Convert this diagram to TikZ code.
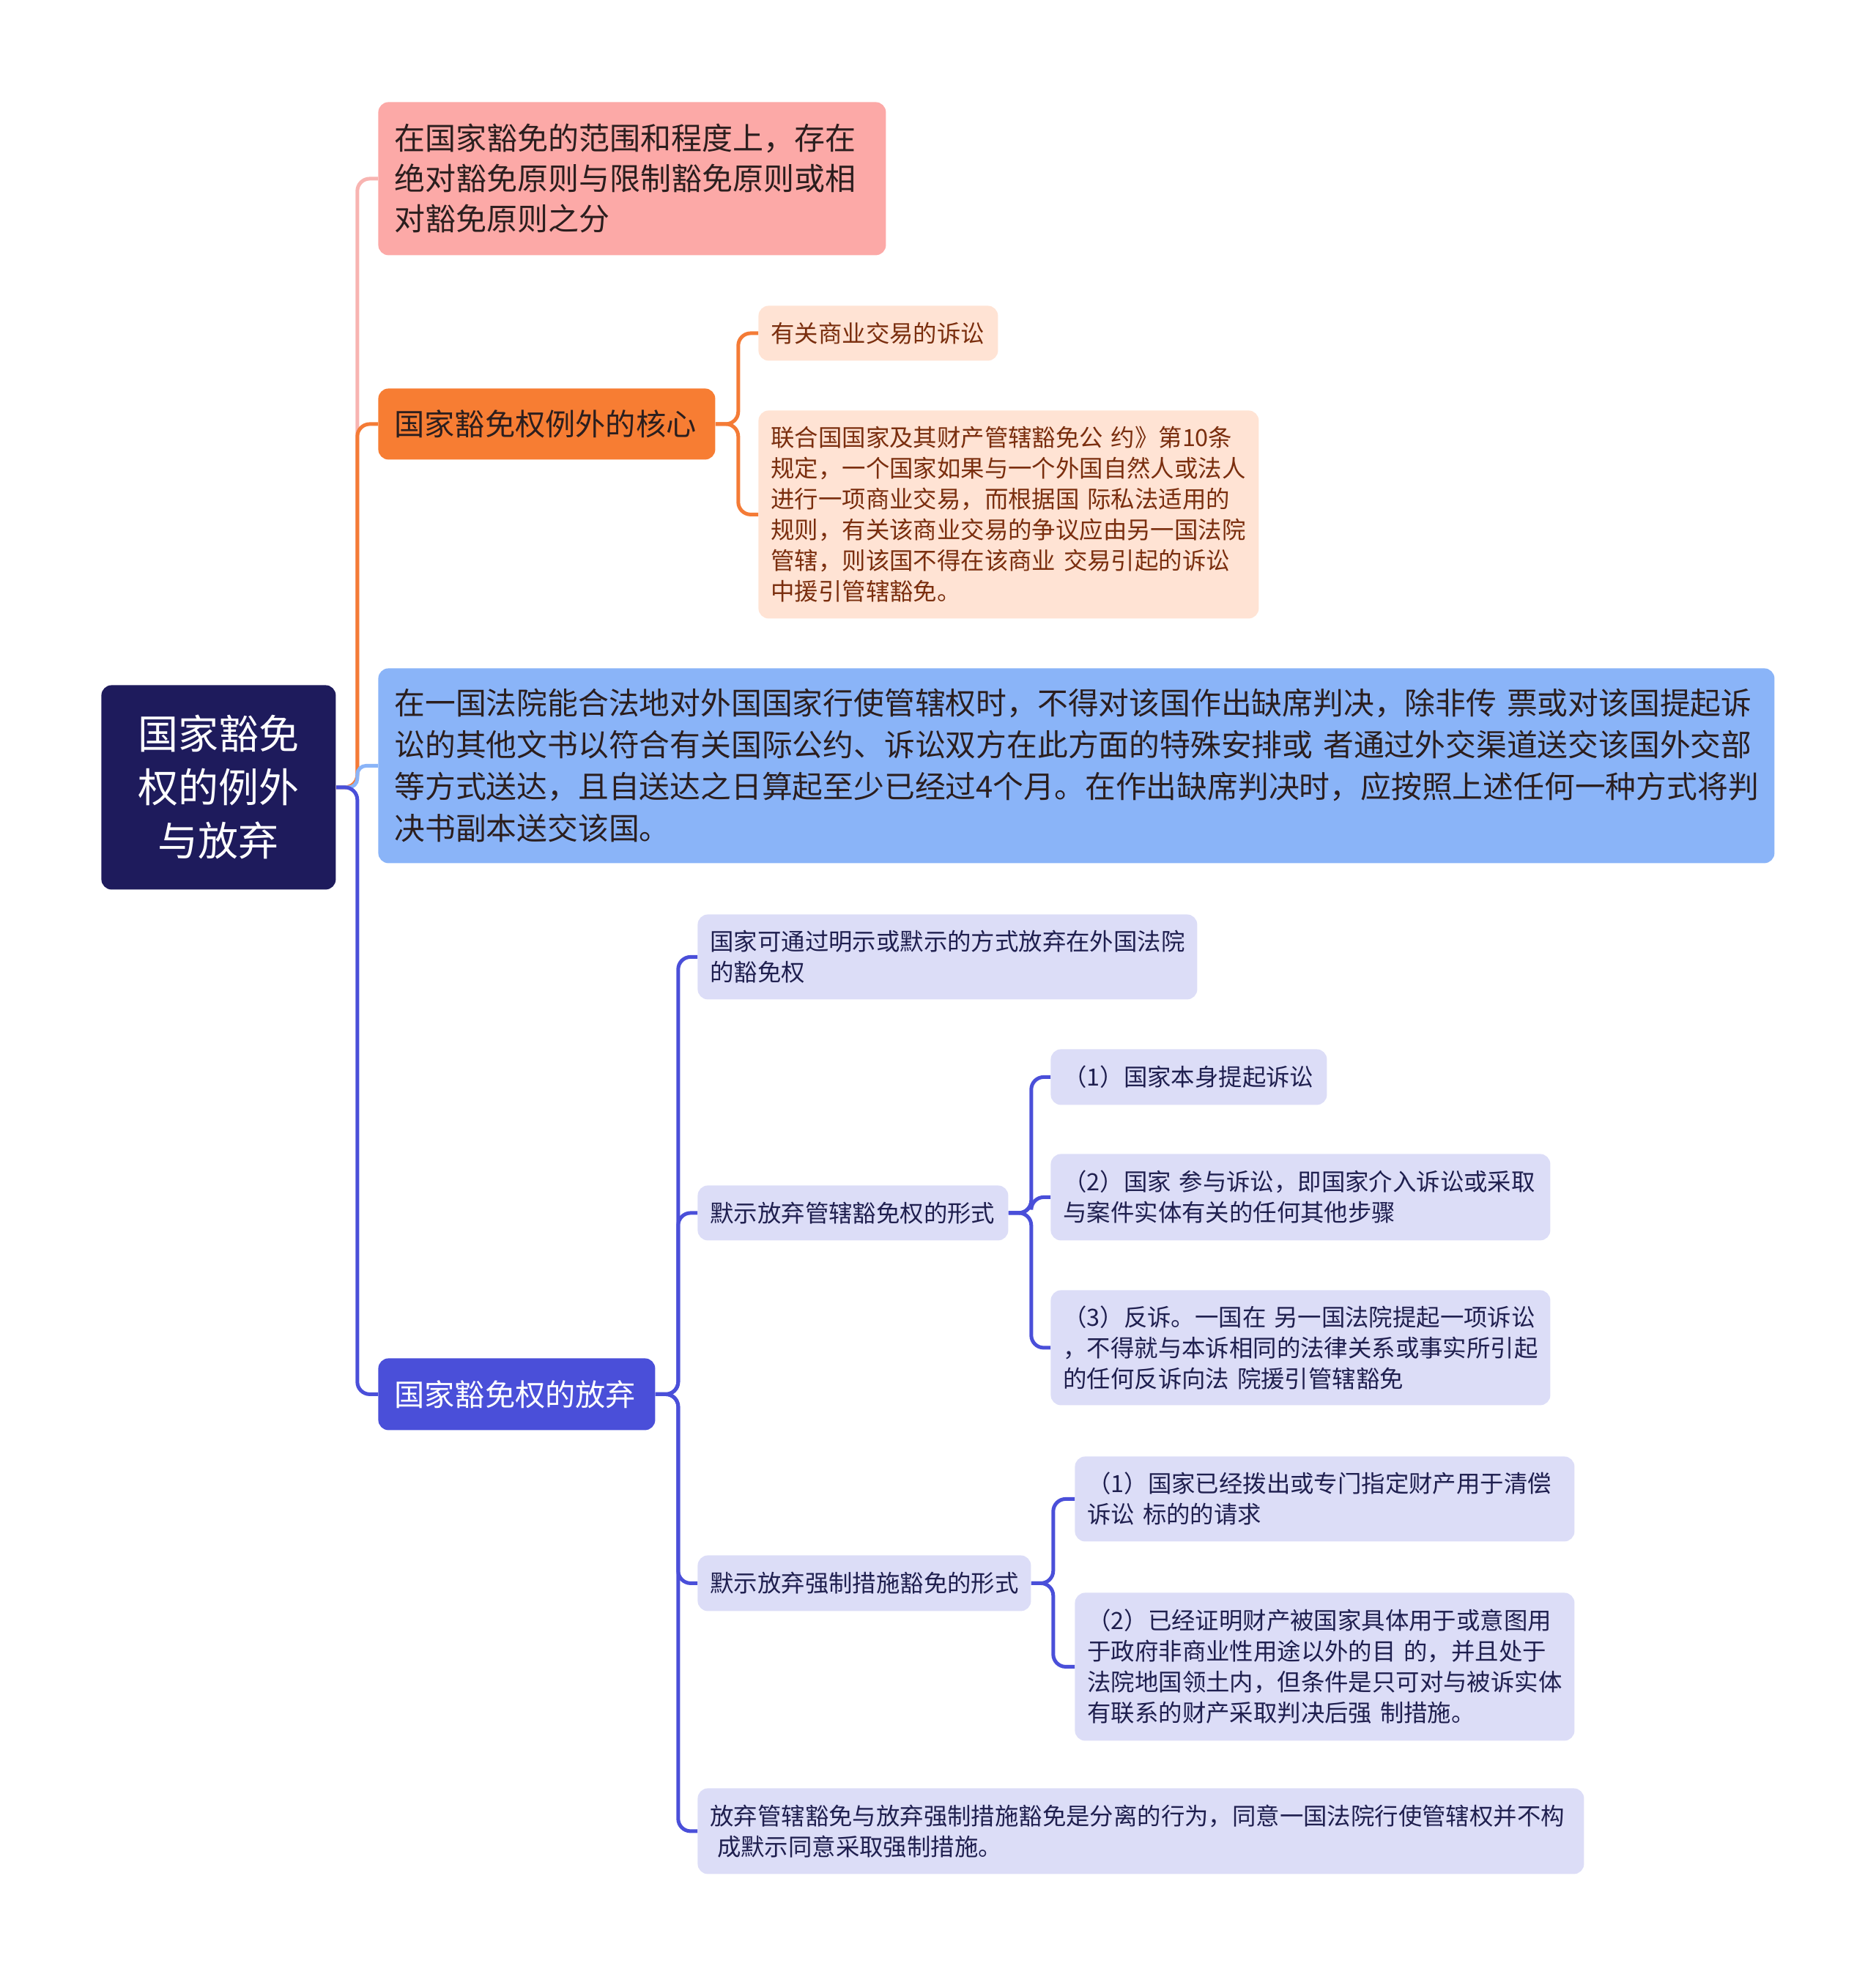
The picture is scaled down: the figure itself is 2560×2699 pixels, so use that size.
\documentclass[tikz,border=0pt]{standalone}
\usepackage{fontspec}
\newfontfamily\cjk{Noto Sans CJK SC}
\definecolor{rootfill}{HTML}{1E1B5C}
\definecolor{pinkfill}{HTML}{FCA9A7}
\definecolor{pinkline}{HTML}{F8B4B1}
\definecolor{orangefill}{HTML}{F77D33}
\definecolor{orangeline}{HTML}{F47B36}
\definecolor{peachfill}{HTML}{FFE3D4}
\definecolor{peachtext}{HTML}{7A2E0E}
\definecolor{bluefill}{HTML}{8AB4F8}
\definecolor{indigofill}{HTML}{4A4FD9}
\definecolor{lavfill}{HTML}{DCDDF7}
\definecolor{lavtext}{HTML}{1F1F4F}
\definecolor{darktext}{HTML}{2B1E1E}
\begin{document}
\begin{tikzpicture}[x=0.5pt,y=-0.5pt,
  box/.style={anchor=north west, rounded corners=7pt, inner ysep=0pt, align=left},
  big/.style={font=\cjk\fontsize{21pt}{27.5pt}\selectfont, inner xsep=11pt},
  small/.style={font=\cjk\fontsize{16.2pt}{21pt}\selectfont, inner xsep=8.5pt},
  conn/.style={line width=2.5pt, rounded corners=8.5pt}]
\useasboundingbox (0,0) rectangle (2560,2699);

% root
\node[box, align=center, fill=rootfill, text=white, inner xsep=0pt,
  font=\cjk\fontsize{27.5pt}{36.5pt}\selectfont,
  text width=160pt, minimum height=139.5pt] (root) at (138,935)
  {国家豁免\\权的例外\\与放弃};

% level 1
\node[box, big, fill=pinkfill, text=darktext, text width=324.5pt, minimum height=104.5pt] (A) at (516,139)
  {在国家豁免的范围和程度上，存在\\绝对豁免原则与限制豁免原则或相\\对豁免原则之分};
\node[box, big, fill=orangefill, text=darktext, text width=208pt, minimum height=48.5pt,
  font=\cjk\fontsize{20.6pt}{27pt}\selectfont] (B) at (516,530)
  {国家豁免权例外的核心};
\node[box, big, fill=bluefill, text=darktext, text width=931pt, minimum height=133pt,
  font=\cjk\fontsize{20.9pt}{28.5pt}\selectfont] (C) at (516,912)
  {在一国法院能合法地对外国国家行使管辖权时，不得对该国作出缺席判决，除非传~票或对该国提起诉\\讼的其他文书以符合有关国际公约、诉讼双方在此方面的特殊安排或~者通过外交渠道送交该国外交部\\等方式送达，且自送达之日算起至少已经过4个月。在作出缺席判决时，应按照上述任何一种方式将判\\决书副本送交该国。};
\node[box, big, fill=indigofill, text=white, text width=167pt, minimum height=49pt,
  font=\cjk\fontsize{20.6pt}{27pt}\selectfont] (D) at (516,1854)
  {国家豁免权的放弃};

% B children
\node[box, small, fill=peachfill, text=peachtext, text width=146.5pt, minimum height=37.5pt] (B1) at (1035,417)
  {有关商业交易的诉讼};
\node[box, small, fill=peachfill, text=peachtext, text width=324.5pt, minimum height=142pt] (B2) at (1035,560)
  {联合国国家及其财产管辖豁免公~约》第10条\\规定，一个国家如果与一个外国自然人或法人\\进行一项商业交易，而根据国~际私法适用的\\规则，有关该商业交易的争议应由另一国法院\\管辖，则该国不得在该商业~交易引起的诉讼\\中援引管辖豁免。};

% D children
\node[box, small, fill=lavfill, text=lavtext, text width=324pt, minimum height=58pt] (D1) at (952,1248)
  {国家可通过明示或默示的方式放弃在外国法院\\的豁免权};
\node[box, small, fill=lavfill, text=lavtext, text width=195pt, minimum height=37.5pt] (D2) at (952,1618)
  {默示放弃管辖豁免权的形式};
\node[box, small, fill=lavfill, text=lavtext, minimum height=38pt, text width=210.5pt] (D3) at (952,2123)
  {默示放弃强制措施豁免的形式};
\node[box, small, fill=lavfill, text=lavtext, text width=588pt, minimum height=58.5pt] (D4) at (952,2441)
  {放弃管辖豁免与放弃强制措施豁免是分离的行为，同意一国法院行使管辖权并不构\\\hspace{0.3em}成默示同意采取强制措施。};

% D2 children
\node[box, small, fill=lavfill, text=lavtext, text width=171.5pt, minimum height=38pt] (D2a) at (1434,1432)
  {（1）国家本身提起诉讼};
\node[box, small, fill=lavfill, text=lavtext, text width=324pt, minimum height=59pt] (D2b) at (1434,1575)
  {（2）国家~参与诉讼，即国家介入诉讼或采取\\与案件实体有关的任何其他步骤};
\node[box, small, fill=lavfill, text=lavtext, text width=324pt, minimum height=78.5pt] (D2c) at (1434,1761)
  {（3）反诉。一国在~另一国法院提起一项诉讼\\，不得就与本诉相同的法律关系或事实所引起\\的任何反诉向法~院援引管辖豁免};

% D3 children
\node[box, small, fill=lavfill, text=lavtext, text width=324pt, minimum height=58pt] (D3a) at (1467,1988)
  {（1）国家已经拨出或专门指定财产用于清偿\\诉讼~标的的请求};
\node[box, small, fill=lavfill, text=lavtext, text width=324pt, minimum height=101pt] (D3b) at (1467,2174)
  {（2）已经证明财产被国家具体用于或意图用\\于政府非商业性用途以外的目~的，并且处于\\法院地国领土内，但条件是只可对与被诉实体\\有联系的财产采取判决后强~制措施。};

% junctions
\coordinate (j0) at ([xshift=14.5pt]root.east);
\coordinate (jB) at ([xshift=15.5pt]B.east);
\coordinate (jD) at ([xshift=15.5pt]D.east);
\coordinate (jD2) at ([xshift=15.5pt]D2.east);
\coordinate (jD3) at ([xshift=15pt]D3.east);

% connectors from root
\draw[conn, pinkline] (root.east) -- (j0) |- (A.west);
\draw[conn, orangeline] (root.east) -- (j0) |- (B.west);
\draw[conn, bluefill, rounded corners=6pt] (root.east) -- (j0) |- (C.west);
\draw[conn, indigofill] (root.east) -- (j0) |- (D.west);

% B connectors
\draw[conn, orangeline] (B.east) -- (jB) |- (B1.west);
\draw[conn, orangeline] (B.east) -- (jB) |- (B2.west);

% D connectors
\draw[conn, indigofill] (D.east) -- (jD) |- (D1.west);
\draw[conn, indigofill] (D.east) -- (jD) |- (D2.west);
\draw[conn, indigofill] (D.east) -- (jD) |- (D3.west);
\draw[conn, indigofill] (D.east) -- (jD) |- (D4.west);

\draw[conn, indigofill] (D2.east) -- (jD2) |- (D2a.west);
\draw[conn, indigofill] (D2.east) -- (jD2) |- (D2b.west);
\draw[conn, indigofill] (D2.east) -- (jD2) |- (D2c.west);

\draw[conn, indigofill] (D3.east) -- (jD3) |- (D3a.west);
\draw[conn, indigofill] (D3.east) -- (jD3) |- (D3b.west);
\end{tikzpicture}
\end{document}
